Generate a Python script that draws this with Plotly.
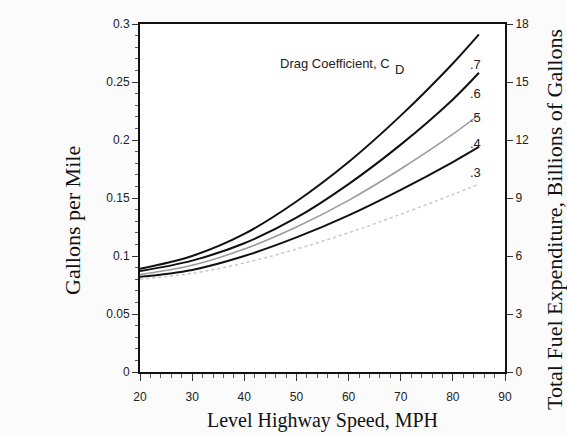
import plotly.graph_objects as go

speed = [20, 30, 40, 50, 60, 70, 80, 85]
cd_labels = [".7", ".6", ".5", ".4", ".3"]
gpm_07 = [0.089, 0.100, 0.119, 0.147, 0.181, 0.221, 0.266, 0.291]
gpm_06 = [0.087, 0.096, 0.111, 0.133, 0.162, 0.196, 0.235, 0.258]
gpm_05 = [0.084, 0.092, 0.106, 0.125, 0.148, 0.175, 0.205, 0.222]
gpm_04 = [0.082, 0.088, 0.100, 0.116, 0.135, 0.157, 0.181, 0.194]
gpm_03 = [0.080, 0.085, 0.094, 0.106, 0.120, 0.136, 0.153, 0.162]
series = [gpm_07, gpm_06, gpm_05, gpm_04, gpm_03]
x_ticks = [20, 30, 40, 50, 60, 70, 80, 90]
y_ticks = [0, 0.05, 0.1, 0.15, 0.2, 0.25, 0.3]
y2_ticks = [0, 3, 6, 9, 12, 15, 18]
GAL_TO_BILLIONS = 60  # right axis: 0.3 gal/mile <-> 18 billion gallons

styles = [
    dict(color="#111111", width=2),
    dict(color="#111111", width=2),
    dict(color="#9a9a9a", width=1.5),
    dict(color="#111111", width=2),
    dict(color="#c8c8c8", width=1.5, dash="dot"),
]
label_y = [0.265, 0.2405, 0.219, 0.1966, 0.172]

fig = go.Figure()
for vals, st in zip(series, styles):
    fig.add_trace(go.Scatter(x=speed, y=vals, mode="lines", line=dict(shape="spline", **st),
                             showlegend=False, hoverinfo="skip"))
# right-axis companion (same data in billions of gallons, not drawn)
fig.add_trace(go.Scatter(x=speed, y=[v * GAL_TO_BILLIONS for v in gpm_07], yaxis="y2",
                         mode="lines", opacity=0, showlegend=False, hoverinfo="skip"))

sans = "Liberation Sans"
for lab, ly in zip(cd_labels, label_y):
    fig.add_annotation(x=84.4, y=ly, text=lab, showarrow=False, xanchor="center",
                       font=dict(family=sans, size=13, color="#222"))

fig.add_annotation(x=46.4, y=0.266, text="Drag Coefficient, C", showarrow=False,
                   xanchor="left", font=dict(family=sans, size=13, color="#222"))
fig.add_annotation(x=68.6, y=0.266, text="D", showarrow=False, yshift=-6,
                   xanchor="left", font=dict(family=sans, size=13, color="#222"))

serif = "Liberation Serif"
fig.add_annotation(xref="paper", yref="paper", x=-0.1836, y=0.437, text="Gallons per Mile",
                   textangle=-90, showarrow=False, xanchor="center", yanchor="middle",
                   font=dict(family=serif, size=22, color="#111"))
fig.add_annotation(xref="paper", yref="paper", x=1.137, y=0.437,
                   text="Total Fuel Expenditure, Billions of Gallons",
                   textangle=-90, showarrow=False, xanchor="center", yanchor="middle",
                   font=dict(family=serif, size=22, color="#111"))

tickfont = dict(family=sans, size=12, color="#222")
fig.update_layout(
    width=567, height=435,
    margin=dict(l=140, r=62, t=24, b=63, autoexpand=False),
    paper_bgcolor="#fbfbfb", plot_bgcolor="white",
    xaxis=dict(range=[20, 90], tickvals=x_ticks, showgrid=False, zeroline=False, automargin=False,
               showline=True, linecolor="#111", linewidth=2, mirror=True,
               ticks="outside", ticklen=7, tickcolor="#333", ticklabelstandoff=6,
               minor=dict(dtick=2, ticks="outside", ticklen=4, tickcolor="#555"),
               tickfont=tickfont,
               title=dict(text="Level Highway Speed, MPH", standoff=10,
                          font=dict(family=serif, size=20, color="#111"))),
    yaxis=dict(range=[0, 0.3], tickvals=y_ticks, ticktext=["0", "0.05", "0.1", "0.15", "0.2", "0.25", "0.3"],
               showgrid=False, zeroline=False, automargin=False,
               showline=True, linecolor="#111", linewidth=2,
               ticks="outside", ticklen=6, tickcolor="#333",
               minor=dict(dtick=0.01, ticks="outside", ticklen=3, tickcolor="#555"),
               tickfont=tickfont),
    yaxis2=dict(range=[0, 18], tickvals=y2_ticks, overlaying="y", side="right", anchor="x",
                showgrid=False, zeroline=False, automargin=False,
                showline=True, linecolor="#111", linewidth=2,
                ticks="outside", ticklen=6, tickcolor="#333",
                tickfont=tickfont),
)
fig.write_html("out.html")
